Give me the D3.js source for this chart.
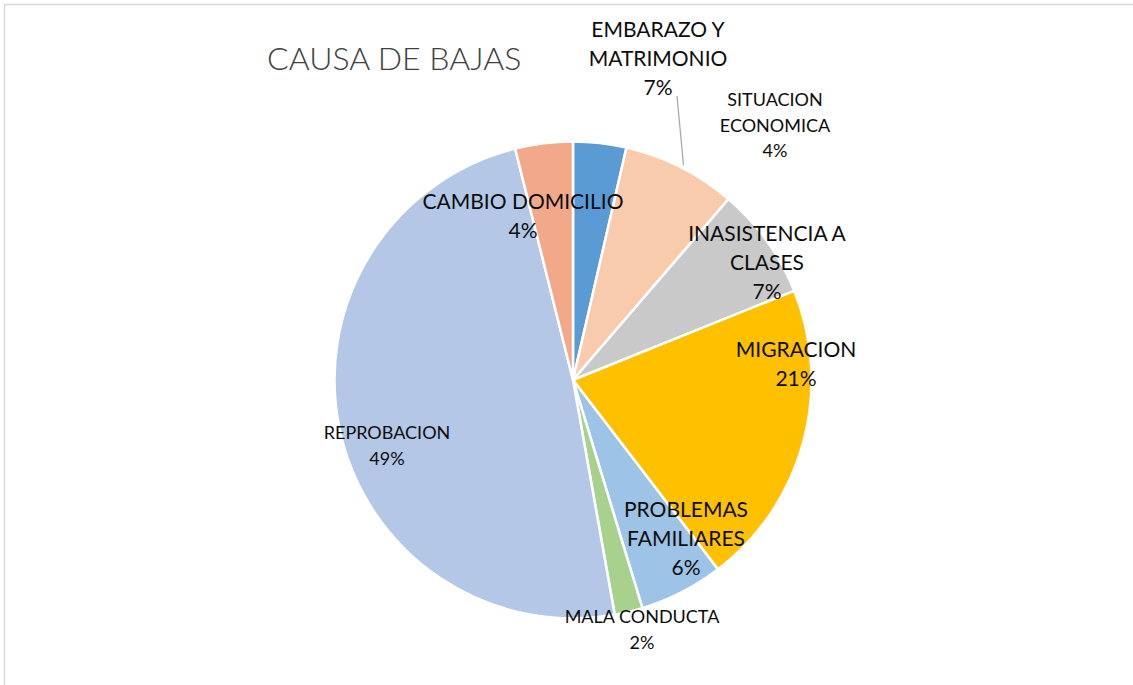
<!DOCTYPE html>
<html>
<head>
<meta charset="utf-8">
<script src="https://cdn.jsdelivr.net/npm/d3@7"></script>
<style>
  body { margin: 0; background: #fff; }
  svg { display: block; font-family: Lato, "Open Sans", sans-serif; }
</style>
</head>
<body>
<svg id="chart" width="1133" height="685"></svg>
<script>
// Data (share of each cause, clockwise from 12 o'clock)
var causes = ['CAMBIO DOMICILIO', 'EMBARAZO Y MATRIMONIO', 'INASISTENCIA A CLASES', 'MIGRACION',
  'PROBLEMAS FAMILIARES', 'MALA CONDUCTA', 'REPROBACION', 'SITUACION ECONOMICA'];
var shares = [3.6, 7.7, 7.6, 20.7, 5.7, 1.9, 48.9, 3.9];
var pctLabels = ['4%', '7%', '7%', '21%', '6%', '2%', '49%', '4%'];
var sliceColors = ['#5B9BD5', '#F8CBAD', '#C9C9C9', '#FFC000', '#9DC3E6', '#A9D18E', '#B4C7E7', '#F1A98A'];

// label lines and where each label sits, relative to the pie centre
var labelLines = [
  ['CAMBIO DOMICILIO'], ['EMBARAZO Y', 'MATRIMONIO'], ['INASISTENCIA A', 'CLASES'], ['MIGRACION'],
  ['PROBLEMAS', 'FAMILIARES'], ['MALA CONDUCTA'], ['REPROBACION'], ['SITUACION', 'ECONOMICA']
];
var labelOffsets = [[-50, -171], [85, -343], [194, -139], [223, -23], [113, 137], [69, 243], [-186, 59], [202, -274]];
var smallLabel = [false, false, false, false, false, true, true, true];

var svg = d3.select('#chart');
var cx = 573, cy = 380, radius = 238.5;

// frame of the chart area (right and bottom edges fall outside the picture)
svg.append('rect')
  .attr('x', 4.5).attr('y', 4.5)
  .attr('width', 1200).attr('height', 720)
  .attr('fill', 'none')
  .attr('stroke', '#d9d9d9')
  .attr('stroke-width', 1.5);

svg.append('text')
  .attr('x', 267).attr('y', 70)
  .attr('fill', '#404040')
  .attr('font-size', 32)
  .attr('font-weight', 300)
  .text('CAUSA DE BAJAS');

var rows = causes.map(function(c, i) {
  return { cause: c, value: shares[i], pct: pctLabels[i], color: sliceColors[i],
    lines: labelLines[i], off: labelOffsets[i], small: smallLabel[i] };
});

var pie = d3.pie().sort(null).value(d => d.value);
var arc = d3.arc().innerRadius(0).outerRadius(radius);

var g = svg.append('g').attr('transform', 'translate(' + cx + ',' + cy + ')');

g.selectAll('path')
  .data(pie(rows))
  .enter()
  .append('path')
  .attr('d', arc)
  .attr('fill', d => d.data.color)
  .attr('stroke', '#fff')
  .attr('stroke-width', 2.5)
  .attr('stroke-linejoin', 'round');

// leader line for EMBARAZO Y MATRIMONIO
var embarazo = pie(rows)[1];
var edgePt = d3.arc().innerRadius(radius + 2).outerRadius(radius + 2).centroid(embarazo);
g.append('line')
  .attr('x1', embarazo.data.off[0] + 19).attr('y1', embarazo.data.off[1] + 59)
  .attr('x2', edgePt[0] + 2).attr('y2', edgePt[1])
  .attr('stroke', '#A6A6A6')
  .attr('stroke-width', 1.2);

var labels = g.selectAll('text.lbl')
  .data(rows)
  .enter()
  .append('text')
  .attr('class', 'lbl')
  .attr('text-anchor', 'middle')
  .attr('fill', '#0d0d0d')
  .attr('font-size', d => d.small ? 18 : 21)
  .attr('transform', d => 'translate(' + d.off[0] + ',' + d.off[1] + ')');

labels.each(function(d) {
  var t = d3.select(this);
  var step = d.small ? 25.5 : 29;
  d.lines.concat([d.pct]).forEach(function(line, k) {
    t.append('tspan').attr('x', 0).attr('y', k * step).text(line);
  });
});
</script>
</body>
</html>
